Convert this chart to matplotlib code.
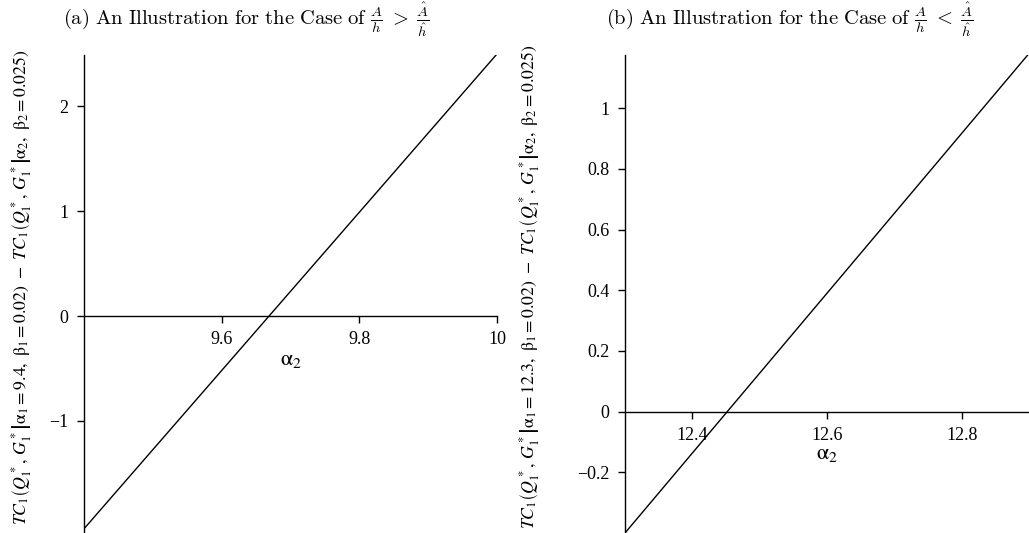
import matplotlib.pyplot as plt
from matplotlib.ticker import FuncFormatter

# data
alpha2_a = [9.4, 10.0]
diff_a = [-2.03, 2.50]
xticks_a = [9.6, 9.8, 10.0]
yticks_a = [-1, 0, 1, 2]

alpha2_b = [12.3, 12.9]
diff_b = [-0.40, 1.18]
xticks_b = [12.4, 12.6, 12.8]
yticks_b = [-0.2, 0, 0.2, 0.4, 0.6, 0.8, 1.0]

title_a = r"$\mathrm{(a)\ An\ Illustration\ for\ the\ Case\ of\ }\frac{A}{h}\;>\;\frac{\hat{A}}{\hat{h}}$"
title_b = r"$\mathrm{(b)\ An\ Illustration\ for\ the\ Case\ of\ }\frac{A}{h}\;<\;\frac{\hat{A}}{\hat{h}}$"
ylab_a = (r"$TC_1\left(Q_1^*,\, G_1^*\right|\left.\mathrm{\alpha}_1 = 9.4,\ \mathrm{\beta}_1 = 0.02\right)"
          r"\ -\ TC_1\left(Q_1^*,\, G_1^*\right|\left.\mathrm{\alpha}_2,\ \mathrm{\beta}_2 = 0.025\right)$")
ylab_b = (r"$TC_1\left(Q_1^*,\, G_1^*\right|\left.\mathrm{\alpha}_1 = 12.3,\ \mathrm{\beta}_1 = 0.02\right)"
          r"\ -\ TC_1\left(Q_1^*,\, G_1^*\right|\left.\mathrm{\alpha}_2,\ \mathrm{\beta}_2 = 0.025\right)$")

plt.rcParams['font.family'] = ['Liberation Serif', 'DejaVu Serif']
plt.rcParams['mathtext.fontset'] = 'stix'

fmt = FuncFormatter(lambda v, p: ('%g' % round(v, 3)).replace('-', '\u2212'))

fig = plt.figure(figsize=(10.29, 5.33), dpi=100)
ax1 = fig.add_axes([84/1029, 0.0, (497-84)/1029, 478/533])
ax2 = fig.add_axes([625/1029, 0.0, (1029-625)/1029, 478/533])

panels = [
    (ax1, alpha2_a, diff_a, xticks_a, yticks_a, (9.4, 10.0), (-2.07, 2.49), ylab_a, 22, 0.36),
    (ax2, alpha2_b, diff_b, xticks_b, yticks_b, (12.3, 12.9), (-0.40, 1.175), ylab_b, 530, 0.165),
]

for ax, x, y, xt, yt, xl, yl, lab, labx, ay in panels:
    ax.plot(x, y, color='black', linewidth=1.0)
    ax.set_xlim(*xl)
    ax.set_ylim(*yl)
    ax.patch.set_visible(False)
    for s in ['top', 'right']:
        ax.spines[s].set_visible(False)
    ax.spines['bottom'].set_position(('data', 0))
    ax.spines['left'].set_linewidth(1.0)
    ax.spines['bottom'].set_linewidth(1.0)
    ax.set_xticks(xt)
    ax.set_yticks(yt)
    ax.xaxis.set_major_formatter(fmt)
    ax.yaxis.set_major_formatter(fmt)
    ax.tick_params(direction='out', length=5, width=1, labelsize=13, pad=6)
    ax.text(0.5, ay, r"$\mathrm{\alpha}_2$", transform=ax.transAxes,
            ha='center', va='center', fontsize=16)
    fig.text(labx / 1029, 1 - 287/533, lab, rotation=90, ha='center', va='center', fontsize=12.8)

fig.text(246/1029, 1 - 20/533, title_a, ha='center', va='center', fontsize=14.8, math_fontfamily='cm')
fig.text(790/1029, 1 - 20/533, title_b, ha='center', va='center', fontsize=14.8, math_fontfamily='cm')

plt.savefig("out.png", dpi=100)
